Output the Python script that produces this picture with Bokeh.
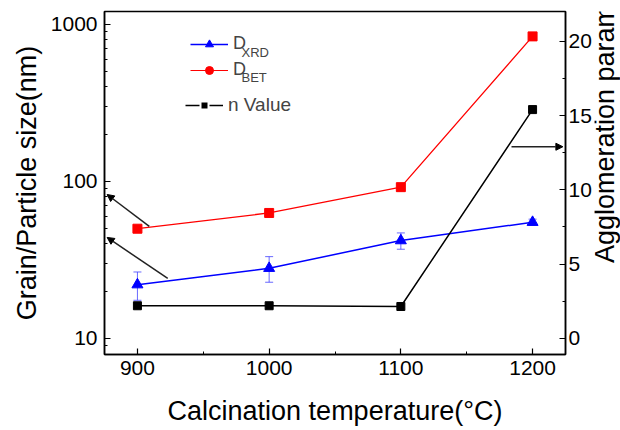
import math
from bokeh.plotting import figure
from bokeh.layouts import row
from bokeh.models import (Range1d, LinearAxis, LinearScale, FixedTicker, PrintfTickFormatter, Whisker,
                          ColumnDataSource, Legend, LegendItem, Arrow, NormalHead, Label, TeeHead)
from bokeh.embed import file_html
from bokeh.resources import INLINE

# ---- data ----
temps = [900, 1000, 1100, 1200]
d_xrd = [22, 28, 42, 55]
d_xrd_err = [4.5, 5.2, 5.0, 2.5]
d_bet = [50, 63, 92, 840]
n_value = [2.2, 2.2, 2.15, 15.4]

x_ticks = [900, 1000, 1100, 1200]
x_minor = [950, 1050, 1150]
left_ticks = [10, 100, 1000]
left_minor = [9, 20, 30, 40, 50, 60, 70, 80, 90, 200, 300, 400, 500, 600, 700, 800, 900]
right_ticks = [0, 5, 10, 15, 20]
right_minor = [2.5, 7.5, 12.5, 17.5]

FONT = "Liberation Sans"
NAN = float("nan")

p = figure(width=594, height=430, output_backend="svg", toolbar_location=None,
           y_axis_type="log", x_range=Range1d(875, 1225), y_range=Range1d(7.9, 1210),
           min_border_left=104, min_border_right=27, min_border_top=11, min_border_bottom=76)
p.extra_y_ranges = {"right": Range1d(-1.08, 22.0)}
p.extra_y_scales = {"right": LinearScale()}
p.grid.visible = False
p.outline_line_color = "black"
p.outline_line_width = 1.5
p.background_fill_color = "white"
p.border_fill_color = "white"

def style_axis(ax):
    ax.axis_line_width = 1.5
    ax.major_tick_in = 6
    ax.major_tick_out = 0
    ax.minor_tick_in = 3
    ax.minor_tick_out = 0
    ax.major_tick_line_width = 1.2
    ax.minor_tick_line_width = 1.0
    ax.major_label_text_font = FONT
    ax.major_label_text_font_size = "21px"
    ax.major_label_text_color = "black"
    ax.axis_label_text_font = FONT
    ax.axis_label_text_font_size = "27px"
    ax.axis_label_text_font_style = "normal"
    ax.axis_label_text_color = "black"

xa = p.xaxis[0]
xa.ticker = FixedTicker(ticks=x_ticks, minor_ticks=x_minor)
xa.axis_label = "Calcination temperature(°C)"
style_axis(xa)
xa.major_label_standoff = 6
xa.axis_label_standoff = 18

ya = p.yaxis[0]
ya.ticker = FixedTicker(ticks=left_ticks, minor_ticks=left_minor)
ya.formatter = PrintfTickFormatter(format="%d")
ya.axis_label = "Grain/Particle size(nm)"
style_axis(ya)
ya.major_label_standoff = 7
ya.axis_label_standoff = 6

ra = LinearAxis(y_range_name="right", ticker=FixedTicker(ticks=right_ticks, minor_ticks=right_minor))
style_axis(ra)
ra.major_label_standoff = 3
p.add_layout(ra, "right")

# ---- series ----
src_err = ColumnDataSource(dict(x=temps,
                                upper=[v + e for v, e in zip(d_xrd, d_xrd_err)],
                                lower=[v - e for v, e in zip(d_xrd, d_xrd_err)]))
wh = Whisker(base="x", upper="upper", lower="lower", source=src_err,
             line_color="#4444ff", line_alpha=0.8, line_width=1,
             upper_head=TeeHead(size=8, line_color="#4444ff", line_alpha=0.8),
             lower_head=TeeHead(size=8, line_color="#4444ff", line_alpha=0.8))
p.add_layout(wh)

bet_line = p.line(temps, d_bet, line_color="#ff0000", line_width=1.3)
bet_pts = p.scatter(temps, d_bet, marker="square", size=9, fill_color="#ff0000", line_color="#ff0000")

xrd_line = p.line(temps, d_xrd, line_color="#0000ff", line_width=1.5)
xrd_pts = p.scatter(temps, d_xrd, marker="triangle", size=11, fill_color="#0000ff", line_color="#0000ff")

n_line = p.line(temps, n_value, line_color="black", line_width=1.5, y_range_name="right")
n_pts = p.scatter(temps, n_value, marker="square", size=8, fill_color="black", line_color="black",
                  y_range_name="right")

# legend-only glyphs (NaN data, nothing drawn in the plot area)
leg_bet_line = p.line([NAN], [NAN], line_color="#ff0000", line_width=1)
leg_bet_pt = p.scatter([NAN], [NAN], marker="circle", size=9, fill_color="#ff0000", line_color="#ff0000")
leg_n_line = p.line([NAN], [NAN], line_color="black", line_width=1.5)
leg_n_pt = p.scatter([NAN], [NAN], marker="square", size=7, fill_color="black", line_color="white",
                     line_width=2)

# ---- arrows ----
head = dict(size=7, fill_color="black", line_color="black")
p.add_layout(Arrow(end=NormalHead(**head), x_start=909, y_start=51.7, x_end=877, y_end=82.6,
                   line_width=1.5, line_color="#222222"))
p.add_layout(Arrow(end=NormalHead(**head), x_start=923, y_start=24.1, x_end=877, y_end=44,
                   line_width=1.5, line_color="#222222"))
p.add_layout(Arrow(end=NormalHead(**head), x_start=1184, y_start=12.9, x_end=1223, y_end=12.9,
                   line_width=1.5, line_color="#222222", y_range_name="right"))

# ---- legends ----
def make_legend(items, loc, size):
    lg = Legend(items=items, location=loc, padding=0, margin=0, border_line_alpha=0,
                background_fill_alpha=0, glyph_width=38, glyph_height=20, label_height=20,
                spacing=5, label_standoff=5, label_text_font=FONT, label_text_font_size=size)
    p.add_layout(lg, "center")
    return lg

make_legend([LegendItem(label="D", renderers=[xrd_line, xrd_pts]),
             LegendItem(label="D", renderers=[leg_bet_line, leg_bet_pt])], (86, 274), "18px")
make_legend([LegendItem(label="n Value", renderers=[leg_n_line, leg_n_pt])], (81, 238), "19px")

for txt, yy in (("XRD", 343 - 41), ("BET", 343 - 66)):
    p.add_layout(Label(x=137, y=yy, x_units="screen", y_units="screen", text=txt,
                       text_font=FONT, text_font_size="13px", text_baseline="alphabetic"))

# ---- right axis title in a narrow strip, reading bottom-to-top as in the reference ----
t = figure(width=26, height=430, output_backend="svg", toolbar_location=None,
           x_axis_location=None, y_axis_location=None,
           x_range=Range1d(0, 1), y_range=Range1d(0, 1),
           min_border_left=0, min_border_right=0, min_border_top=0, min_border_bottom=0)
t.grid.visible = False
t.outline_line_color = None
t.background_fill_color = "white"
t.border_fill_color = "white"
t.add_layout(Label(x=10, y=255, x_units="screen", y_units="screen", angle=math.pi / 2,
                   text="Agglomeration parameter/n", text_font=FONT, text_font_size="27px",
                   text_align="center", text_baseline="middle", text_color="black"))

layout = row(p, t, spacing=0)
open("out.html", "w").write(file_html(layout, INLINE))
